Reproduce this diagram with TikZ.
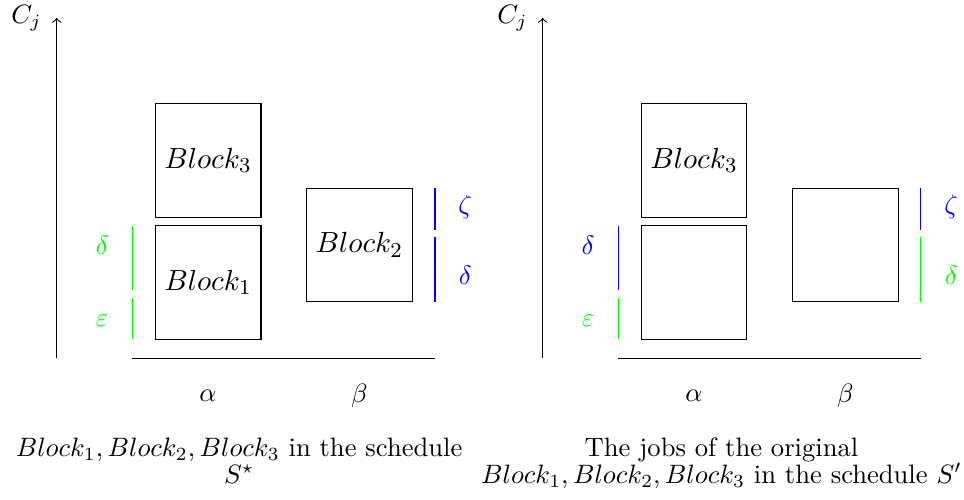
\documentclass[tikz,border=0pt]{standalone}
\usetikzlibrary{positioning}
\tikzset{
    blockbox/.style={draw, minimum width=1.4cm, minimum height=1.5cm, inner sep=0pt,
        font=\fontsize{10.95pt}{13.6pt}\selectfont},
    capnode/.style={align=center, anchor=north, font=\fontsize{10pt}{10.2pt}\selectfont}
}
\begin{document}
\begin{tikzpicture}
            \useasboundingbox (-0.75,-1.873) rectangle (11.993,4.736);
            % schedule S*
            \coordinate (o) at (0,0);
            \coordinate (top) at (0,4.5);
            \draw [->] (o) -- (top);
            \node (cj) at (-0.4,4.5) {$C_j$};
            \coordinate (xl) at (1,0);
            \coordinate (xr) at (5,0);
            \draw (xl) -- (xr);
            \node [blockbox] (b1) at (2,1) {$Block_1$};
            \node [blockbox, above=1mm of b1] (b3) {$Block_3$};
            \node [blockbox] (b2) at (4,1.5) {$Block_2$};
            \draw [green] (1,0.25) -- (1,0.8);
            \draw [green] (1,0.9) -- (1,1.75);
            \draw [blue] (5,0.75) -- (5,1.6);
            \draw [blue] (5,1.7) -- (5,2.25);
            \node [green] (eps) at (0.6,0.5) {$\varepsilon$};
            \node [green] (del) at (0.6,1.5) {$\delta$};
            \node [blue] (zet) at (5.4,2) {$\zeta$};
            \node [blue] (der) at (5.4,1.1) {$\delta$};
            \node (al) at (2,-0.5) {$\alpha$};
            \node (be) at (4,-0.5) {$\beta$};
            \node [capnode] (cap) at (2.41,-0.925) {$Block_1, Block_2, Block_3$ in the schedule\\ $S^\star$};
            \begin{scope}[shift={(6.424,0)}]
                % schedule S'
                \coordinate (o') at (0,0);
                \coordinate (top') at (0,4.5);
                \draw [->] (o') -- (top');
                \node (cj') at (-0.4,4.5) {$C_j$};
                \coordinate (xl') at (1,0);
                \coordinate (xr') at (5,0);
                \draw (xl') -- (xr');
                \node [blockbox] (b1') at (2,1) {};
                \node [blockbox, above=1mm of b1'] (b3') {$Block_3$};
                \node [blockbox] (b2') at (4,1.5) {};
                \draw [green] (1,0.25) -- (1,0.8);
                \draw [blue] (1,0.9) -- (1,1.75);
                \draw [green] (5,0.75) -- (5,1.6);
                \draw [blue] (5,1.7) -- (5,2.25);
                \node [green] (eps') at (0.6,0.5) {$\varepsilon$};
                \node [blue] (del') at (0.6,1.5) {$\delta$};
                \node [blue] (zet') at (5.4,2) {$\zeta$};
                \node [green] (der') at (5.4,1.1) {$\delta$};
                \node (al') at (2,-0.5) {$\alpha$};
                \node (be') at (4,-0.5) {$\beta$};
                \node [capnode] (cap') at (2.363,-0.925) {The jobs of the original\\ $Block_1, Block_2, Block_3$ in the schedule $S'$};
            \end{scope}
        \end{tikzpicture}
\end{document}
